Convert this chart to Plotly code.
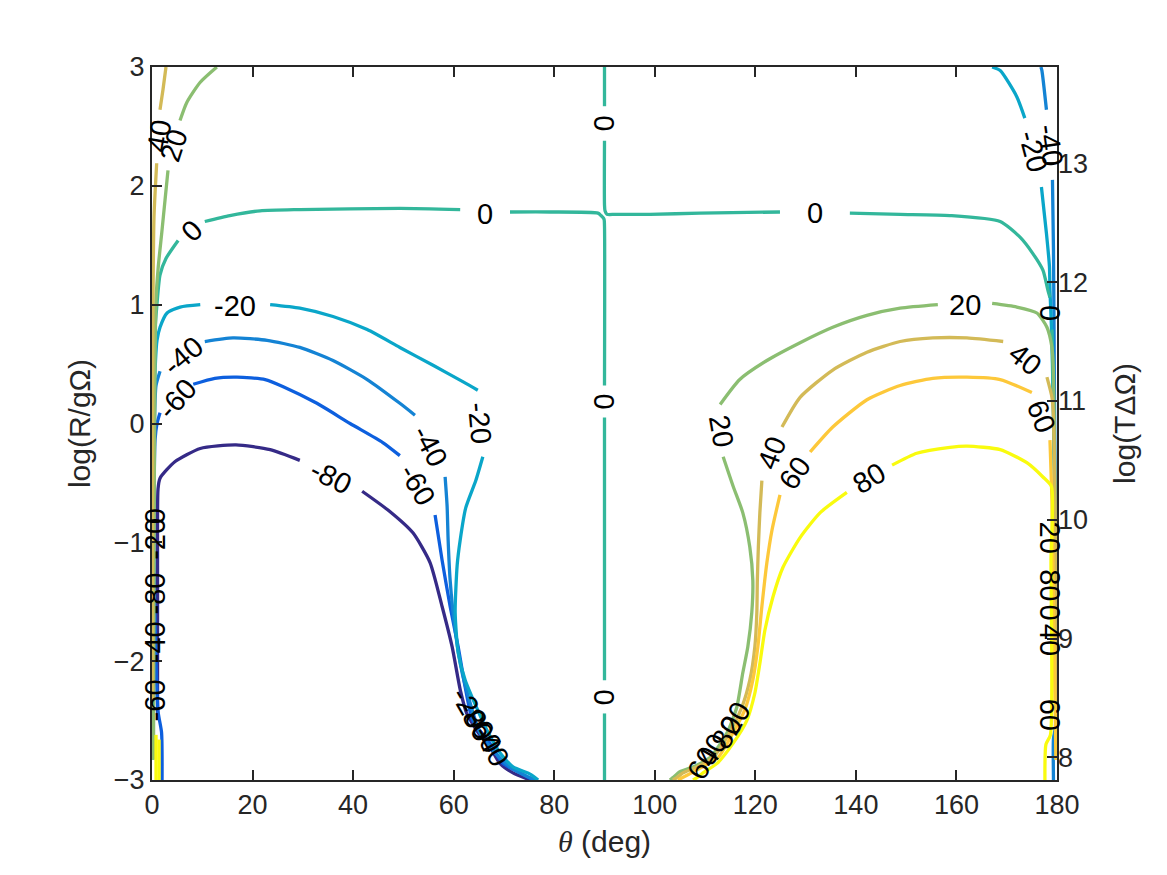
import plotly.graph_objects as go

# contour levels and the parula-like colours MATLAB gave them
levels = [-80, -60, -40, -20, 0, 20, 40, 60, 80]
level_colors = {
    -80: "#352a87", -60: "#0d5fde", -40: "#1483d4", -20: "#0aa6c9",
    0: "#33b79b", 20: "#8bbe71", 40: "#d3ba57", 60: "#fdc83a", 80: "#f9fb0e",
}

# contour paths (theta in deg, log(R/g Omega)); None = label gap
neg80_x = [1.1, 1.1, 1.2, 1.6, 4.6, 9.6, 16.7, 23.5, 29.4, None, 41.8, 47.3, 51.9, 55.3, 57.7, 59.7, 61.3, 62.6, 65.2, 67.2, 69.2, 71.8, 75.2]
neg80_y = [-2.45, -1.2, -0.55, -0.46, -0.32, -0.21, -0.18, -0.22, -0.31, None, -0.57, -0.74, -0.92, -1.17, -1.54, -1.88, -2.24, -2.44, -2.62, -2.72, -2.86, -2.94, -3.0]

neg60_x = [2.0, 1.9, 1.2, 0.4, 0.6, 1.0, 1.6, None, 8.2, 12.5, 16.9, 22.5, 26.1, 32.8, 39.4, 45.9, 49.3, None, 56.3, 57.7, 59.3, 60.9, 62.3, 63.8, 67.2, 69.8, 73.2, 75.8]
neg60_y = [-3.0, -2.6, -2.42, -1.15, -0.14, 0.0, 0.09, None, 0.33, 0.38, 0.39, 0.37, 0.31, 0.17, 0.0, -0.16, -0.27, None, -0.77, -1.15, -1.54, -1.88, -2.22, -2.5, -2.69, -2.86, -2.94, -3.0]

neg40_left_x = [0.2, 0.32, 0.5, 0.8, 1.6, None, 10.5, 16.1, 22.9, 29.4, 36.0, 42.8, 49.3, 52.3, None, 58.3, 58.7, 58.9, 59.3, 60.3, 61.7, 65.2, 68.2, 71.2, 74.6, 76.4]
neg40_left_y = [-2.71, -1.15, 0.03, 0.32, 0.44, None, 0.69, 0.72, 0.70, 0.64, 0.53, 0.37, 0.17, 0.07, None, -0.45, -0.70, -0.98, -1.32, -1.74, -2.10, -2.60, -2.77, -2.89, -2.97, -3.0]
neg40_right_x = [176.8, 177.0, 177.9, None, 179.1, 179.3, 179.5, 179.75, 179.7, 179.3, 179.3]
neg40_right_y = [3.0, 2.97, 2.64, None, 2.05, 1.46, 0.20, -1.15, -2.55, -2.65, -3.0]

neg20_left_x = [0.16, 0.24, 0.4, 0.7, 1.0, 1.6, 3.0, 5.6, 9.6, None, 23.5, 29.4, 36.0, 42.8, 49.3, 55.9, 61.9, 64.8, None, 65.8, 64.4, 62.4, 61.3, 60.7, 60.3, 60.9, 62.3, 66.6, 69.2, 71.8, 75.2, 76.8]
neg20_left_y = [-2.75, -1.15, 0.03, 0.53, 0.70, 0.81, 0.93, 0.98, 1.0, None, 1.0, 0.97, 0.90, 0.79, 0.64, 0.49, 0.35, 0.28, None, -0.28, -0.48, -0.71, -0.98, -1.19, -1.59, -1.93, -2.16, -2.58, -2.77, -2.89, -2.95, -3.0]
neg20_right_x = [167.1, 168.7, 172.0, 173.6, None, 176.9, 177.9, 178.5, 178.6, 179.0, 179.4, 179.7, 179.9]
neg20_right_y = [3.0, 2.97, 2.75, 2.57, None, 1.99, 1.60, 1.32, 1.12, 0.70, -0.22, -1.15, -2.83]

zero_a_x = [90, 90, None, 90, 90, 90.1, 90.5, 92.1, 99.0, 109.0, 124.9, None, 138.8, 148.8, 158.7, 168.7, 172.6, 175.2, 177.2, 178.2, 178.6, None, 179.0, 179.4, 179.6, 179.8]
zero_a_y = [3.0, 2.67, None, 2.38, 1.84, 1.79, 1.76, 1.76, 1.76, 1.77, 1.78, None, 1.77, 1.76, 1.75, 1.70, 1.57, 1.43, 1.29, 1.12, 1.06, None, 0.79, -0.05, -1.15, -2.83]
zero_b_x = [0.12, 0.2, 0.3, 0.5, 1.0, 1.6, 2.8, 5.2, None, 10.5, 15.5, 21.5, 29.4, 49.3, 61.3, None, 71.2, 79.2, 88.7, 89.3, 89.9, 90, 90, None, 90, 90, None, 90, 90]
zero_b_y = [-2.83, -1.15, 0.03, 0.70, 1.01, 1.25, 1.39, 1.54, None, 1.70, 1.75, 1.79, 1.80, 1.81, 1.80, None, 1.78, 1.78, 1.77, 1.75, 1.72, 1.66, 0.32, None, 0.05, -2.16, None, -2.44, -3.0]

pos20_left_x = [12.9, 9.55, 6.9, 5.57, None, 3.18, 2.59, 1.93, 1.25, 0.8, 0.6, 0.4, 0.3]
pos20_left_y = [3.0, 2.87, 2.70, 2.55, None, 2.13, 1.88, 1.60, 1.32, 1.04, 0.53, -1.15, -2.83]
pos20_right_x = [103.0, 103.6, 105.0, 107.6, 111.0, 114.4, 116.3, 117.5, 118.5, 119.3, 119.5, 118.9, 117.5, 115.6, 113.6, None, 113.0, 116.9, 122.3, 128.9, 135.4, 142.2, 148.8, 156.3, None, 167.1, 172.0, 176.0, 178.0, 179.0, 179.25, 179.5, 179.7, 179.85]
pos20_right_y = [-3.0, -2.98, -2.93, -2.89, -2.81, -2.60, -2.39, -2.10, -1.88, -1.59, -1.32, -1.04, -0.75, -0.53, -0.28, None, 0.16, 0.37, 0.53, 0.68, 0.81, 0.91, 0.97, 1.00, None, 1.01, 0.98, 0.93, 0.81, 0.64, 0.48, -0.22, -1.15, -2.83]

pos40_left_x = [2.78, 2.19, 1.59, None, 0.93, 0.4, 0.2, 0.12, 0.1]
pos40_left_y = [3.0, 2.81, 2.64, None, 2.19, 1.74, 1.04, -0.22, -2.33]
pos40_right_x = [103.6, 104.4, 105.6, 108.4, 111.6, 114.9, 117.3, 118.9, 119.9, 120.3, 120.4, 120.6, 120.9, 121.3, None, 125.3, 128.9, 135.4, 142.2, 148.8, 155.3, 162.1, 169.3, None, 178.0, 179.0, 179.25, 179.6, 179.8, 179.9]
pos40_right_y = [-3.0, -2.98, -2.94, -2.89, -2.81, -2.60, -2.39, -2.16, -1.88, -1.59, -1.32, -1.04, -0.75, -0.48, None, -0.03, 0.22, 0.45, 0.60, 0.69, 0.72, 0.72, 0.69, None, 0.39, 0.22, 0.09, -0.64, -1.49, -2.83]

pos60_right_x = [104.6, 106.4, 109.0, 112.6, 115.6, 117.9, 119.5, 120.5, 121.3, 122.3, 123.3, 124.9, None, 130.9, 135.4, 142.2, 148.8, 155.3, 162.1, 168.7, 175.0, None, 178.6, 179.0, 179.3, 179.6, 179.8]
pos60_right_y = [-3.0, -2.96, -2.90, -2.81, -2.60, -2.41, -2.16, -1.88, -1.54, -1.17, -0.90, -0.60, None, -0.24, -0.03, 0.20, 0.32, 0.38, 0.39, 0.37, 0.26, None, -0.14, -0.64, -1.49, -2.33, -2.83]

pos80_left_x = [0.8, 0.8, None, 1.4, 1.4]
pos80_left_y = [-2.62, -3.0, None, -2.66, -3.0]
pos80_right_x = [107.6, 108.4, 109.6, 112.4, 115.6, 118.3, 119.9, 120.9, 121.9, 123.5, 125.5, 128.9, 132.9, 138.2, None, 147.2, 152.1, 158.7, 162.1, 168.7, 174.0, 177.2, 178.9, 178.8, 178.7, 177.8, 177.6]
pos80_right_y = [-3.0, -2.98, -2.94, -2.86, -2.69, -2.50, -2.27, -2.02, -1.74, -1.46, -1.21, -0.96, -0.75, -0.58, None, -0.35, -0.25, -0.20, -0.19, -0.22, -0.33, -0.45, -0.53, -1.15, -2.62, -2.70, -3.0]

paths = [
    (-80, neg80_x, neg80_y),
    (-60, neg60_x, neg60_y),
    (-40, neg40_left_x, neg40_left_y),
    (-40, neg40_right_x, neg40_right_y),
    (-20, neg20_left_x, neg20_left_y),
    (-20, neg20_right_x, neg20_right_y),
    (0, zero_a_x, zero_a_y),
    (0, zero_b_x, zero_b_y),
    (20, pos20_left_x, pos20_left_y),
    (20, pos20_right_x, pos20_right_y),
    (40, pos40_left_x, pos40_left_y),
    (40, pos40_right_x, pos40_right_y),
    (60, pos60_right_x, pos60_right_y),
    (80, pos80_left_x, pos80_left_y),
    (80, pos80_right_x, pos80_right_y),
]

# inline contour labels: text, position, rotation (deg, clockwise)
label_text = ["-80", "-60", "-60", "-40", "-40", "-20", "-20", "-20", "-40",
              "0", "0", "0", "0", "0", "0", "0",
              "20", "40", "20", "20", "40", "40", "60", "60", "80",
              "0", "-20", "-80", "-40", "-60",
              "20", "80", "0", "40", "60",
              "-20", "-80", "-60", "-40",
              "60", "40", "80", "20"]
label_x = [35.6, 4.9, 52.8, 6.1, 55.3, 16.5, 65.3, 175.2, 178.6,
           90, 90, 90, 7.9, 66.2, 131.9, 178.6,
           4.4, 1.4, 113.3, 161.7, 123.3, 173.6, 127.9, 176.8, 142.7,
           0.6, 0.6, 0.6, 0.6, 0.6,
           178.6, 178.6, 178.6, 178.6, 178.6,
           63.2, 64.4, 66.0, 67.6,
           109.6, 111.4, 114.4, 116.0]
label_y = [-0.45, 0.21, -0.52, 0.57, -0.19, 0.99, 0.0, 2.29, 2.34,
           2.53, 0.19, -2.30, 1.62, 1.76, 1.77, 0.93,
           2.34, 2.42, -0.06, 1.0, -0.25, 0.54, -0.42, 0.06, -0.46,
           -0.78, -0.97, -1.43, -1.84, -2.33,
           -0.96, -1.36, -1.59, -1.82, -2.45,
           -2.39, -2.50, -2.60, -2.71,
           -2.86, -2.75, -2.60, -2.48]
label_rot = [27, -48, 60, -40, 62, 0, 85, 75, 82,
             90, 90, 90, -45, 0, 0, 90,
             -72, -80, 80, 0, -69, 38, -55, 69, -31,
             -90, -90, -90, -90, -90,
             90, 90, 90, 90, 90,
             60, 60, 60, 60,
             -60, -60, -60, -60]

x_ticks = [0, 20, 40, 60, 80, 100, 120, 140, 160, 180]
y_ticks = [-3, -2, -1, 0, 1, 2, 3]
y2_ticks = [8, 9, 10, 11, 12, 13]
y2_offset = 10.81  # log(T dOmega) - log(R/g Omega)

FONT = "Helvetica, Liberation Sans, Arial, sans-serif"
AXIS_COLOR = "#262626"

fig = go.Figure()

for level, xs, ys in paths:
    fig.add_trace(go.Scatter(
        x=xs, y=ys, mode="lines",
        line=dict(color=level_colors[level], width=3.3, shape="spline", smoothing=0.6),
        showlegend=False, hoverinfo="skip", connectgaps=False,
    ))

# empty trace so the right axis is live
fig.add_trace(go.Scatter(x=[], y=[], yaxis="y2", showlegend=False))

for t, x, y, r in zip(label_text, label_x, label_y, label_rot):
    fig.add_annotation(x=x, y=y, text=t, textangle=r, showarrow=False,
                       font=dict(family=FONT, size=29, color="black"))

axis_common = dict(
    showgrid=False, zeroline=False, ticks="inside", ticklen=10, tickwidth=2,
    tickcolor=AXIS_COLOR, linecolor=AXIS_COLOR, linewidth=2,
    tickfont=dict(family=FONT, size=27, color=AXIS_COLOR),
)
title_font = dict(family=FONT, size=30, color=AXIS_COLOR)

fig.update_layout(
    width=1167, height=875,
    margin=dict(l=144, r=118, t=59, b=103),
    plot_bgcolor="white", paper_bgcolor="white",
    xaxis=dict(
        range=[0, 180], tickvals=x_ticks, showline=True, mirror="ticks",
        title=dict(text="<span style='font-family:Liberation Serif'><i>θ</i></span> (deg)",
                   font=title_font, standoff=12),
        **axis_common,
    ),
    yaxis=dict(
        range=[-3, 3], tickvals=y_ticks, showline=True, mirror=True,
        title=dict(text="log(R/gΩ)", font=title_font, standoff=14),
        **axis_common,
    ),
    yaxis2=dict(
        range=[-3 + y2_offset, 3 + y2_offset], tickvals=y2_ticks, overlaying="y", side="right",
        showline=False,
        title=dict(text="log(TΔΩ)", font=title_font, standoff=26),
        **axis_common,
    ),
)

fig.write_html("out.html")
